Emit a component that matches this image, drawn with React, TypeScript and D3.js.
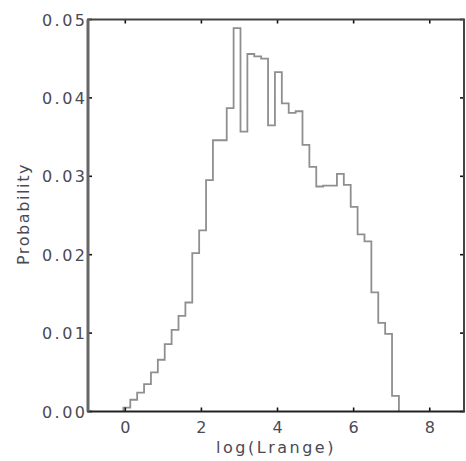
import React from "react";
import * as d3 from "d3";

// Histogram of log(Lrange): 40 equal-width bins
const BIN_START = -0.05;
const BIN_WIDTH = 0.181;
const probabilities = [
  0.0005, 0.0015, 0.0024, 0.0035, 0.005, 0.0066, 0.0086, 0.0104, 0.0122, 0.0139,
  0.0202, 0.0231, 0.0295, 0.0346, 0.0346, 0.0387, 0.0489, 0.0357, 0.0456, 0.0453,
  0.045, 0.0365, 0.0433, 0.0393, 0.0381, 0.0383, 0.034, 0.0312, 0.0287, 0.0288,
  0.0288, 0.0303, 0.0289, 0.0261, 0.0226, 0.0217, 0.0152, 0.0113, 0.0099, 0.002,
];
const xTicks = [0, 2, 4, 6, 8];
const yTicks = [0.0, 0.01, 0.02, 0.03, 0.04, 0.05];
const xLabel = "log(Lrange)";
const yLabel = "Probability";

const W = 466;
const H = 461;
const left = 88;
const right = 464;
const top = 19.5;
const bottom = 411.5;

export default function App() {
  const x = d3.scaleLinear().domain([-0.98, 8.9]).range([left, right]);
  const y = d3.scaleLinear().domain([0, 0.05]).range([bottom, top]);

  const pts: [number, number][] = [];
  pts.push([BIN_START, 0]);
  probabilities.forEach((p, i) => {
    const a = BIN_START + i * BIN_WIDTH;
    const b = BIN_START + (i + 1) * BIN_WIDTH;
    pts.push([a, p]);
    pts.push([b, p]);
  });
  pts.push([BIN_START + probabilities.length * BIN_WIDTH, 0]);

  const line = d3
    .line<[number, number]>()
    .x((d) => x(d[0]))
    .y((d) => y(d[1]));

  const textStyle: React.CSSProperties = {
    fontFamily: "DejaVu Sans, sans-serif",
    fontSize: 16,
    letterSpacing: 2.5,
    fill: "#4a4a55",
  };
  const tickLen = 4;

  return (
    <svg
      width={W}
      height={H}
      style={{ position: "absolute", left: 0, top: 0, background: "#fff" }}
    >
      <path d={line(pts) || ""} fill="none" stroke="#8f8f8f" strokeWidth={1.8} />

      {/* ticks */}
      {xTicks.map((t) => (
        <g key={"xt" + t}>
          <line x1={x(t)} x2={x(t)} y1={bottom} y2={bottom - tickLen} stroke="#111" strokeWidth={1.6} />
          <line x1={x(t)} x2={x(t)} y1={top} y2={top + tickLen} stroke="#111" strokeWidth={1.6} />
          <text x={x(t) + 1.3} y={432.5} textAnchor="middle" style={textStyle}>
            {d3.format("d")(t)}
          </text>
        </g>
      ))}
      {yTicks.map((t) => (
        <g key={"yt" + t}>
          <line x1={left} x2={left + tickLen} y1={y(t)} y2={y(t)} stroke="#111" strokeWidth={1.6} />
          <line x1={right} x2={right - tickLen} y1={y(t)} y2={y(t)} stroke="#111" strokeWidth={1.6} />
          <text x={87.5} y={y(t) + 6} textAnchor="end" style={textStyle}>
            {d3.format(".2f")(t)}
          </text>
        </g>
      ))}

      {/* frame */}
      <line x1={left - 1} x2={right + 1} y1={top} y2={top} stroke="#444" strokeWidth={2} />
      <line x1={left - 1} x2={right + 1} y1={bottom} y2={bottom} stroke="#222" strokeWidth={2} />
      <line x1={left} x2={left} y1={top} y2={bottom} stroke="#666" strokeWidth={3} />
      <line x1={right} x2={right} y1={top} y2={bottom} stroke="#444" strokeWidth={2} />

      <text x={276} y={453} textAnchor="middle" style={textStyle}>
        {xLabel}
      </text>
      <text
        transform={`translate(29, 214) rotate(-90)`}
        textAnchor="middle"
        style={{ ...textStyle, letterSpacing: 1.6 }}
      >
        {yLabel}
      </text>
    </svg>
  );
}
